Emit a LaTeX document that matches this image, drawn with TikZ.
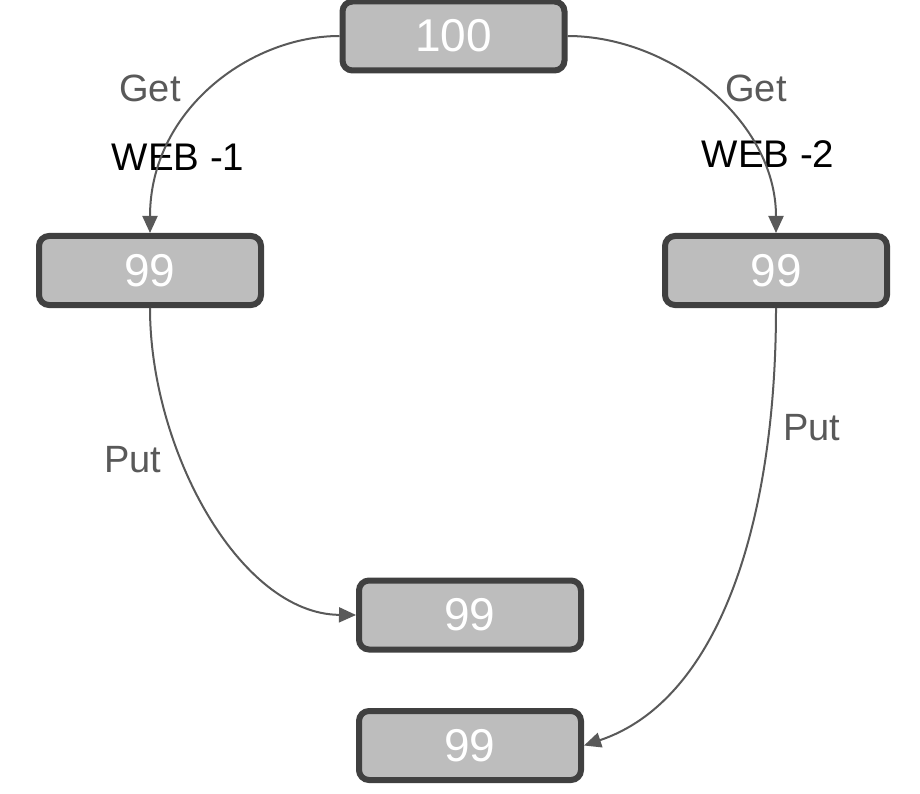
\documentclass[tikz,border=0pt]{standalone}
\usepackage{fontspec}
\setmainfont{Liberation Sans}
\usetikzlibrary{arrows.meta}
\definecolor{boxfill}{HTML}{BDBDBD}
\definecolor{boxline}{HTML}{404040}
\definecolor{lbl}{HTML}{595959}
\definecolor{conn}{HTML}{595959}
\begin{document}
\begin{tikzpicture}[x=1pt,y=-1pt,
  valbox/.style={draw=boxline,fill=boxfill,line width=6pt,rounded corners=10pt,
    minimum width=222pt,minimum height=69pt,inner sep=0pt,text=white,
    font=\fontsize{46}{50}\selectfont},
  lbltext/.style={text=lbl,font=\fontsize{38}{42}\selectfont,inner sep=0pt},
  webtext/.style={text=black,font=\fontsize{38.5}{42}\selectfont,inner sep=0pt},
  conn/.style={draw=conn,line width=2pt,-{Triangle[length=17pt,width=15pt]}}]
\useasboundingbox (0,0) rectangle (920,794);
\node[valbox] (top) at (453.5,36) {100};
\node[valbox] (left) at (150,270.5) {99};
\node[valbox] (right) at (776,270.5) {99};
\node[valbox] (mid) at (470,615) {99};
\node[valbox] (bot) at (470,745.5) {99};
\node[lbltext] (getl) at (150,88) {Get};
\node[lbltext] (getr) at (756,88) {Get};
\node[webtext] (webl) at (178,157) {WEB -1};
\node[webtext] (webr) at (768,154) {WEB -2};
\node[lbltext] (putl) at (133,460) {Put};
\node[lbltext] (putr) at (812,428) {Put};
\draw[conn] (top.west) .. controls (250,36) and (150,110) .. (left.north);
\draw[conn] (top.east) .. controls (670,36) and (776,120) .. (right.north);
\draw[conn] (left.south) .. controls (150,450) and (240,614) .. (mid.west);
\draw[conn] (right.south) .. controls (776,520) and (720,700) .. (bot.east);
\end{tikzpicture}
\end{document}
